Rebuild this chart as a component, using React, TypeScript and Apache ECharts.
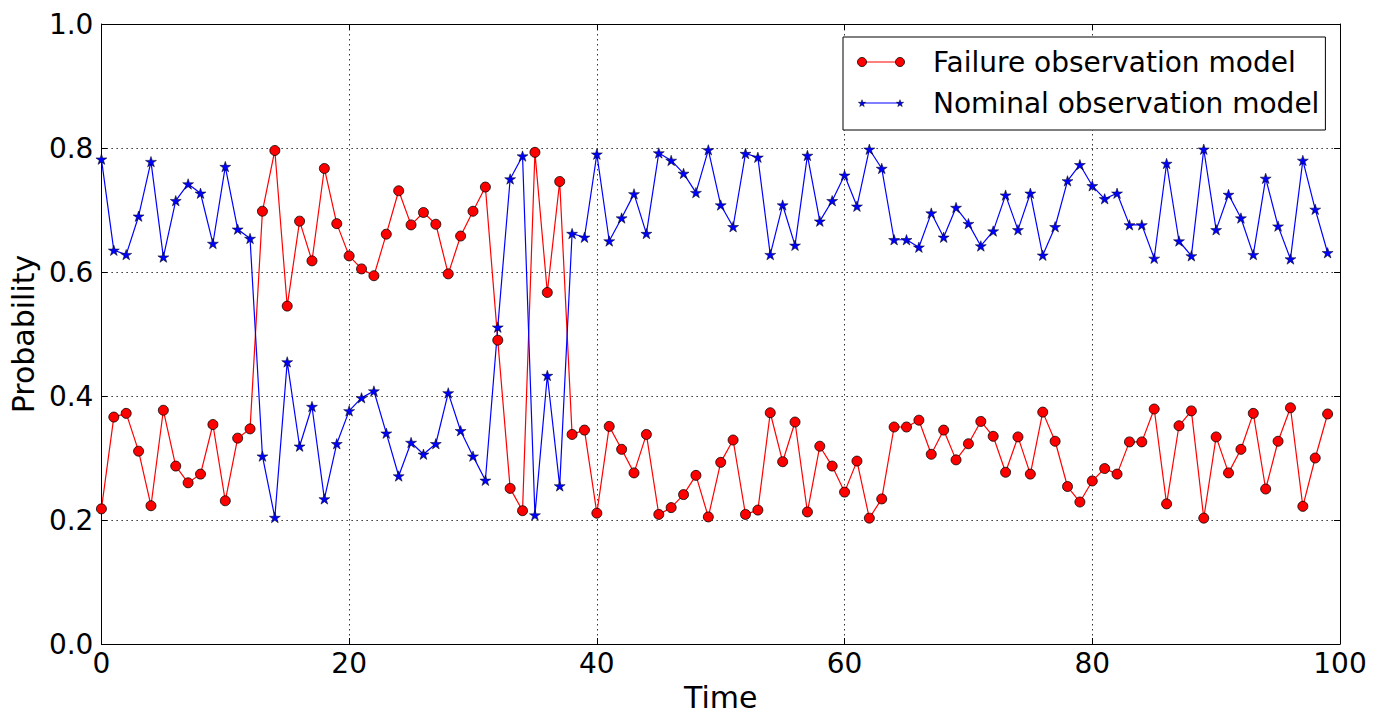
import React, { useEffect, useRef } from "react";
import * as echarts from "echarts";

// Failure observation model probability at each time step (t = 0..99)
const failureObs = [
  0.218, 0.366, 0.372, 0.311, 0.223, 0.377, 0.287, 0.26, 0.274, 0.354,
  0.231, 0.332, 0.347, 0.698, 0.796, 0.545, 0.682, 0.618, 0.767, 0.678,
  0.626, 0.605, 0.594, 0.661, 0.731, 0.676, 0.696, 0.677, 0.597, 0.658,
  0.698, 0.737, 0.49, 0.251, 0.215, 0.793, 0.567, 0.746, 0.338, 0.345,
  0.211, 0.351, 0.314, 0.276, 0.338, 0.209, 0.22, 0.241, 0.272, 0.205,
  0.293, 0.329, 0.209, 0.216, 0.373, 0.294, 0.358, 0.213, 0.319, 0.287,
  0.245, 0.295, 0.203, 0.234, 0.35, 0.35, 0.361, 0.306, 0.345, 0.297,
  0.323, 0.359, 0.335, 0.277, 0.334, 0.274, 0.374, 0.327, 0.254, 0.229,
  0.263, 0.283, 0.274, 0.326, 0.326, 0.379, 0.226, 0.352, 0.376, 0.203,
  0.334, 0.276, 0.314, 0.372, 0.25, 0.327, 0.381, 0.222, 0.3, 0.371,
];

// Nominal observation model probability at each time step (t = 0..99)
const nominalObs = [
  0.782, 0.635, 0.628, 0.69, 0.778, 0.624, 0.715, 0.742, 0.727, 0.646,
  0.77, 0.669, 0.654, 0.303, 0.204, 0.455, 0.319, 0.383, 0.234, 0.323,
  0.376, 0.397, 0.408, 0.34, 0.271, 0.325, 0.306, 0.323, 0.405, 0.344,
  0.303, 0.264, 0.511, 0.75, 0.787, 0.208, 0.433, 0.255, 0.662, 0.656,
  0.79, 0.65, 0.687, 0.726, 0.662, 0.792, 0.78, 0.759, 0.728, 0.797,
  0.708, 0.673, 0.791, 0.785, 0.628, 0.708, 0.643, 0.788, 0.682, 0.715,
  0.756, 0.706, 0.798, 0.767, 0.652, 0.652, 0.64, 0.695, 0.656, 0.704,
  0.678, 0.642, 0.666, 0.724, 0.668, 0.727, 0.627, 0.673, 0.747, 0.773,
  0.739, 0.718, 0.727, 0.676, 0.676, 0.622, 0.775, 0.65, 0.626, 0.798,
  0.668, 0.725, 0.687, 0.628, 0.751, 0.674, 0.621, 0.78, 0.701, 0.631,
];

const seriesNames = ["Failure observation model", "Nominal observation model"];
const xRange = [0, 100];
const yRange = [0, 1];
const xTickStep = 20;
const yTickStep = 0.2;

const FONT = "DejaVu Sans";
const STAR_PATH =
  "path://M50,0L61.23,34.55L97.55,34.55L68.17,55.9L79.39,90.45L50,69.1L20.61,90.45L31.83,55.9L2.45,34.55L38.77,34.55Z";

function starPoints(cx: number, cy: number, R: number): number[][] {
  const r = R * 0.382;
  const pts: number[][] = [];
  for (let k = 0; k < 10; k++) {
    const ang = -Math.PI / 2 + (k * Math.PI) / 5;
    const rad = k % 2 === 0 ? R : r;
    pts.push([cx + rad * Math.cos(ang), cy + rad * Math.sin(ang)]);
  }
  return pts;
}

export default function App() {
  const ref = useRef<HTMLDivElement>(null);

  useEffect(() => {
    if (!ref.current) return;
    const chart = echarts.init(ref.current, null, { renderer: "svg" });

    const splitLine = {
      show: true,
      lineStyle: { color: "#000", width: 0.8, type: [1.5, 3.5] as any },
    };
    const axisLine = { show: true, onZero: false, lineStyle: { color: "#000", width: 1 } };
    const axisTick = { show: true, inside: true, length: 6, lineStyle: { color: "#000", width: 1 } };
    const labelStyle = { fontFamily: FONT, fontSize: 28, color: "#000" };
    const nameStyle = { fontFamily: FONT, fontSize: 30, color: "#000", lineHeight: 30 };

    const legendIconY = [62, 103];
    const iconX0 = 862;
    const iconX1 = 900;

    const option: any = {
      animation: false,
      backgroundColor: "#fff",
      grid: { left: 100, right: 39, top: 24, bottom: 80, containLabel: false },
      xAxis: [
        {
          type: "value",
          min: xRange[0],
          max: xRange[1],
          interval: xTickStep,
          position: "bottom",
          name: "Time",
          nameLocation: "middle",
          nameGap: 38,
          nameTextStyle: nameStyle,
          axisLine,
          axisTick,
          splitLine,
          axisLabel: { ...labelStyle, margin: 5, lineHeight: 28 },
        },
        {
          type: "value",
          min: xRange[0],
          max: xRange[1],
          interval: xTickStep,
          position: "top",
          axisLine,
          axisTick,
          splitLine: { show: false },
          axisLabel: { show: false },
        },
      ],
      yAxis: [
        {
          type: "value",
          min: yRange[0],
          max: yRange[1],
          interval: yTickStep,
          position: "left",
          name: "Probability",
          nameLocation: "middle",
          nameGap: 61,
          nameTextStyle: nameStyle,
          axisLine,
          axisTick,
          splitLine,
          axisLabel: {
            ...labelStyle,
            margin: 8,
            formatter: (v: number) => v.toFixed(1),
          },
        },
        {
          type: "value",
          min: yRange[0],
          max: yRange[1],
          interval: yTickStep,
          position: "right",
          axisLine,
          axisTick,
          splitLine: { show: false },
          axisLabel: { show: false },
        },
      ],
      legend: {
        orient: "vertical",
        left: 843,
        top: 37,
        padding: [11, 6, 13, 14],
        itemGap: 13,
        itemWidth: 71,
        itemHeight: 20,
        icon: "rect",
        itemStyle: { color: "rgba(0,0,0,0)", borderWidth: 0, opacity: 0 },
        borderColor: "#000",
        borderWidth: 1,
        borderRadius: 0,
        backgroundColor: "#fff",
        selectedMode: false,
        textStyle: { fontFamily: FONT, fontSize: 28, color: "#000", lineHeight: 28 },
        data: seriesNames,
      },
      graphic: {
        elements: [
          {
            type: "line",
            z: 100,
            shape: { x1: iconX0, y1: legendIconY[0], x2: iconX1, y2: legendIconY[0] },
            style: { stroke: "#ff0000", lineWidth: 1.2 },
          },
          {
            type: "circle",
            z: 101,
            shape: { cx: iconX0, cy: legendIconY[0], r: 4.5 },
            style: { fill: "#ff0000", stroke: "#000", lineWidth: 0.8 },
          },
          {
            type: "circle",
            z: 101,
            shape: { cx: iconX1, cy: legendIconY[0], r: 4.5 },
            style: { fill: "#ff0000", stroke: "#000", lineWidth: 0.8 },
          },
          {
            type: "line",
            z: 100,
            shape: { x1: iconX0, y1: legendIconY[1], x2: iconX1, y2: legendIconY[1] },
            style: { stroke: "#0000ff", lineWidth: 1.2 },
          },
          {
            type: "polygon",
            z: 101,
            shape: { points: starPoints(iconX0, legendIconY[1] + 0.5, 3.8) },
            style: { fill: "#0000ff", stroke: "#000", lineWidth: 0.5 },
          },
          {
            type: "polygon",
            z: 101,
            shape: { points: starPoints(iconX1, legendIconY[1] + 0.5, 3.8) },
            style: { fill: "#0000ff", stroke: "#000", lineWidth: 0.5 },
          },
        ],
      },
      series: [
        {
          name: seriesNames[0],
          type: "line",
          xAxisIndex: 0,
          yAxisIndex: 0,
          data: failureObs.map((v, i) => [i, v]),
          symbol: "circle",
          symbolSize: 10,
          showAllSymbol: true,
          lineStyle: { color: "#ff0000", width: 1.2 },
          itemStyle: { color: "#ff0000", borderColor: "#000", borderWidth: 0.8 },
          emphasis: { disabled: true },
        },
        {
          name: seriesNames[1],
          type: "line",
          xAxisIndex: 0,
          yAxisIndex: 0,
          data: nominalObs.map((v, i) => [i, v]),
          symbol: STAR_PATH,
          symbolKeepAspect: true,
          symbolSize: 11,
          showAllSymbol: true,
          lineStyle: { color: "#0000ff", width: 1.2 },
          itemStyle: { color: "#0000ff", borderColor: "#000", borderWidth: 0.5 },
          emphasis: { disabled: true },
        },
      ],
    };

    chart.setOption(option);
    return () => chart.dispose();
  }, []);

  return (
    <div
      ref={ref}
      style={{ position: "absolute", left: 0, top: 0, width: 1379, height: 724, background: "#fff" }}
    />
  );
}
